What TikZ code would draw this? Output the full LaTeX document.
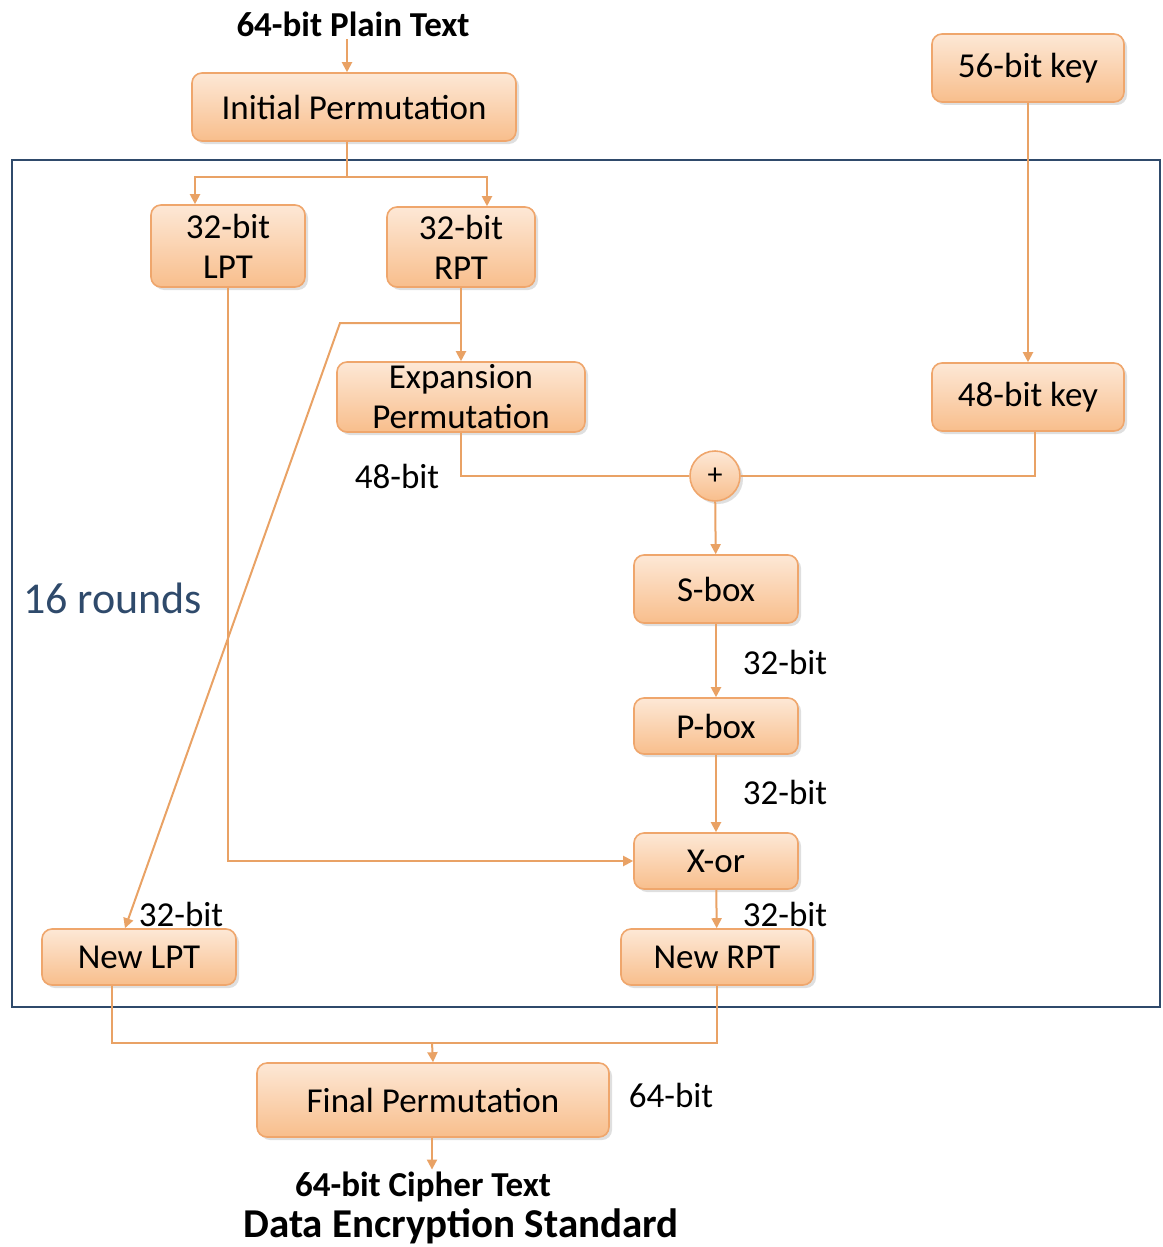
\documentclass[tikz,border=0pt]{standalone}
\usepackage{fontspec}
\setmainfont{Carlito}
\usetikzlibrary{shadows,arrows.meta}
\definecolor{boxtop}{HTML}{FDE8D6}
\definecolor{boxbot}{HTML}{F8BE8C}
\definecolor{boxedge}{HTML}{EFA66C}
\definecolor{wire}{HTML}{E9A265}
\definecolor{framec}{HTML}{2F4A6B}
\begin{document}
\begin{tikzpicture}[x=0.5pt,y=-0.5pt,
  box/.style={draw=boxedge,line width=0.8pt,rounded corners=5pt,
    top color=boxtop,bottom color=boxbot,align=center,inner sep=1pt,
    drop shadow={shadow xshift=1.5pt,shadow yshift=-1.5pt,opacity=0.25},
    font=\fontsize{17.5}{20}\selectfont},
  lbl/.style={font=\fontsize{17.5}{20}\selectfont,inner sep=1pt},
  ttl/.style={font=\fontsize{17.5}{20}\selectfont\bfseries,inner sep=1pt},
  wire/.style={draw=wire,line width=1pt},
  arr/.style={wire,-{Triangle[length=5pt,width=5pt]}}]
\useasboundingbox (0,0) rectangle (1162,1247);
% 16 round frame
\draw[framec,line width=1.4pt] (12,160) rectangle (1160,1007);
\node[text=framec,font=\fontsize{22}{26}\selectfont,anchor=west] (rounds) at (16,598) {16 rounds};
% blocks
\node[ttl] (plain) at (353,24) {64-bit Plain Text};
\node[box,minimum width=162pt,minimum height=34pt] (init) at (354,107) {Initial Permutation};
\node[box,minimum width=77pt,minimum height=41pt] (lpt) at (228,246) {32-bit\\LPT};
\node[box,minimum width=74pt,minimum height=40pt] (rpt) at (461,247) {32-bit\\RPT};
\node[box,minimum width=96pt,minimum height=34pt] (key56) at (1028,68) {56-bit key};
\node[box,minimum width=96pt,minimum height=34pt] (key48) at (1028,397) {48-bit key};
\node[box,minimum width=124pt,minimum height=35pt] (exp) at (461,397) {Expansion\\Permutation};
\node[box,circle,rounded corners=0pt,minimum size=25pt,inner sep=0pt,font=\fontsize{15}{17}\selectfont] (plus) at (715,476) {+};
\node[box,minimum width=82pt,minimum height=34pt] (sbox) at (716,589) {S-box};
\node[box,minimum width=82pt,minimum height=28pt] (pbox) at (716,726) {P-box};
\node[box,minimum width=82pt,minimum height=28pt] (xor) at (716,861) {X-or};
\node[box,minimum width=97pt,minimum height=28pt] (newl) at (139,957) {New LPT};
\node[box,minimum width=96pt,minimum height=28pt] (newr) at (717,957) {New RPT};
\node[box,minimum width=176pt,minimum height=37pt] (fin) at (433,1100) {Final Permutation};
\node[ttl] (cipher) at (423,1187) {64-bit Cipher Text};
\node[ttl,font=\fontsize{20.5}{24}\selectfont\bfseries] (des) at (461,1226) {Data Encryption Standard};
% labels
\node[lbl] (l48) at (397,476) {48-bit};
\node[lbl] (l32a) at (785,662) {32-bit};
\node[lbl] (l32b) at (785,792) {32-bit};
\node[lbl] (l32c) at (785,914) {32-bit};
\node[lbl] (l32d) at (181,914) {32-bit};
\node[lbl] (l64) at (671,1095) {64-bit};
% connectors
\coordinate (split) at (347,177);
\coordinate (rj) at (461,323);
\coordinate (bend) at (340,323);
\coordinate (merge) at (432,1043);
\draw[arr] (plain.south -| split) -- (split |- init.north);
\draw[wire] (split |- init.south) -- (split);
\draw[arr] (split) -| ([xshift=-16.5pt]lpt.north);
\draw[arr] (split) -| ([xshift=13pt]rpt.north);
\draw[arr] (rpt.south) -- (exp.north);
\draw[arr] (rj) -- (bend) -- ([xshift=-7pt]newl.north);
\draw[arr] (key56) -- (key48);
\draw[wire] (exp.south) |- (plus.west);
\draw[wire] ([xshift=3.5pt]key48.south) |- (plus.east);
\draw[arr] (plus) -- (sbox);
\draw[arr] (sbox) -- (pbox);
\draw[arr] (pbox) -- (xor);
\draw[arr] (lpt.south) |- (xor.west);
\draw[arr] (xor) -- (newr);
\draw[wire] ([xshift=-13.5pt]newl.south) |- (merge) -| (newr.south);
\draw[arr] (merge) -- (fin.north);
\draw[arr] (fin.south -| merge) -- (merge |- cipher.north);
\end{tikzpicture}
\end{document}
